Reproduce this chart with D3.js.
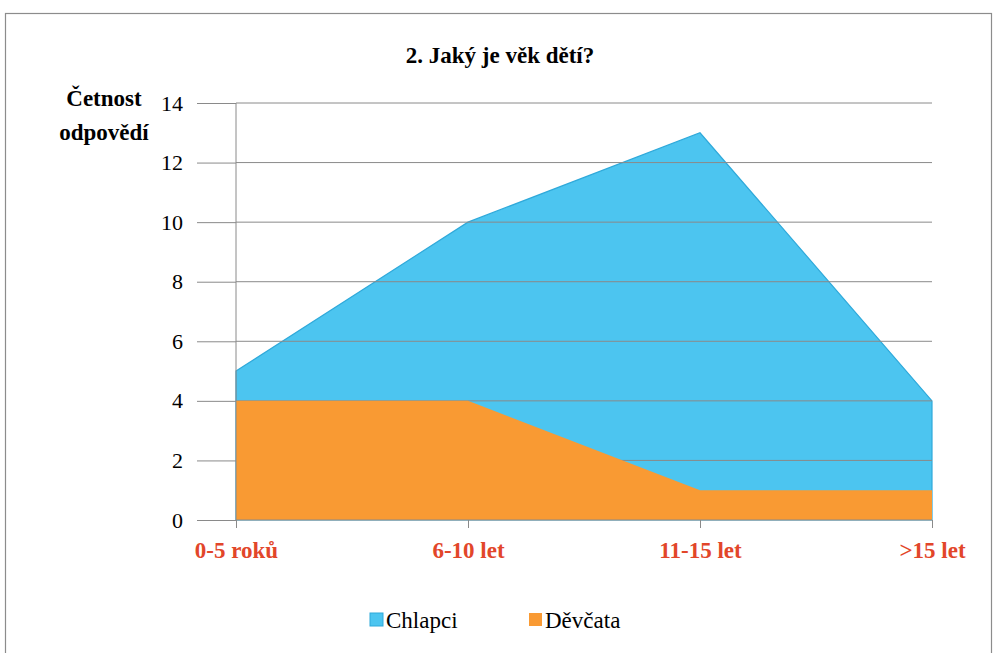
<!DOCTYPE html>
<html>
<head>
<meta charset="utf-8">
<script src="https://cdn.jsdelivr.net/npm/d3@7"></script>
<style>
  body { margin: 0; background: #fff; }
</style>
</head>
<body>
<svg width="993" height="653" font-family="Liberation Serif"></svg>
<script>
// data
var categories = ["0-5 roků", "6-10 let", "11-15 let", ">15 let"];
var chlapci = [5, 10, 13, 4];
var devcata = [4, 4, 1, 1];
var seriesNames = ["Chlapci", "Děvčata"];
var yTicks = [0, 2, 4, 6, 8, 10, 12, 14];

var svg = d3.select("svg"),
    margin = {top: 103, right: 61, bottom: 133, left: 236},
    width = +svg.attr("width") - margin.left - margin.right,
    height = +svg.attr("height") - margin.top - margin.bottom;

var serif = "'Liberation Serif', 'Times New Roman', serif";

// outer frame
svg.append("rect")
  .attr("x", 5.5).attr("y", 13.5)
  .attr("width", 986).attr("height", 660)
  .attr("fill", "none").attr("stroke", "#8c8c8c").attr("stroke-width", 1.2);

var g = svg.append("g").attr("transform", "translate(" + margin.left + "," + margin.top + ")");

var x = d3.scalePoint().domain(categories).range([0, width]).padding(0);
var y = d3.scaleLinear().domain([0, 14]).range([height, 0]);

var area = d3.area()
  .x(function(d, i) { return x(categories[i]); })
  .y0(height)
  .y1(function(d) { return y(d); });

// blue area
g.append("path")
  .datum(chlapci)
  .attr("d", area)
  .attr("fill", "#4cc5f0")
  .attr("stroke", "#2fa9da")
  .attr("stroke-width", 1.2);

// gridlines
g.append("g")
  .selectAll("line")
  .data(yTicks.filter(function(d) { return d > 0; }))
  .enter().append("line")
  .attr("x1", 0).attr("x2", width)
  .attr("y1", function(d) { return y(d); })
  .attr("y2", function(d) { return y(d); })
  .attr("stroke", "#8a8a8a").attr("stroke-width", 1);

// orange area
g.append("path")
  .datum(devcata)
  .attr("d", area)
  .attr("fill", "#f99a33");

// y axis
var yAxis = g.append("g")
  .call(d3.axisLeft(y).tickValues(yTicks).tickSize(39).tickPadding(14));
yAxis.attr("font-family", null);
yAxis.select(".domain").attr("stroke", "#8a8a8a").attr("d", "M0," + height + "V0");
yAxis.selectAll(".tick line").attr("stroke", "#8a8a8a").attr("x2", -39);
yAxis.selectAll(".tick text")
  .style("font-family", serif, "important")
  .style("font-size", "22px").attr("fill", "#000");

// x axis
var xAxis = g.append("g")
  .attr("transform", "translate(0," + height + ")")
  .call(d3.axisBottom(x).tickSize(8).tickPadding(14));
xAxis.attr("font-family", null);
xAxis.select(".domain").attr("stroke", "#8a8a8a").attr("d", "M0,0H" + width);
xAxis.selectAll(".tick line").attr("stroke", "#8a8a8a");
xAxis.selectAll(".tick text")
  .style("font-family", serif, "important")
  .style("font-size", "23px").style("font-weight", "bold")
  .attr("fill", "#e2462a");

// title
svg.append("text")
  .attr("x", 500).attr("y", 63)
  .attr("text-anchor", "middle")
  .style("font-family", serif, "important")
  .style("font-size", "23px").style("font-weight", "bold")
  .text("2. Jaký je věk dětí?");

// y label
var yl = svg.append("text")
  .attr("text-anchor", "middle")
  .style("font-family", serif, "important")
  .style("font-size", "23px").style("font-weight", "bold");
yl.append("tspan").attr("x", 104).attr("y", 106).text("Četnost");
yl.append("tspan").attr("x", 104).attr("y", 140).text("odpovědí");

// legend
var colors = ["#4cc5f0", "#f99a33"];
var legend = svg.append("g").attr("transform", "translate(370,628)");
var lx = [0, 159];
seriesNames.forEach(function(name, i) {
  var lg = legend.append("g").attr("transform", "translate(" + lx[i] + ",0)");
  lg.append("rect").attr("x", 0).attr("y", -15).attr("width", 13).attr("height", 13)
    .attr("fill", colors[i]).attr("stroke", i === 0 ? "#2fa9da" : "none");
  lg.append("text").attr("x", 16).attr("y", 0)
    .style("font-family", serif, "important")
    .style("font-size", "23px").text(name);
});
</script>
</body>
</html>
